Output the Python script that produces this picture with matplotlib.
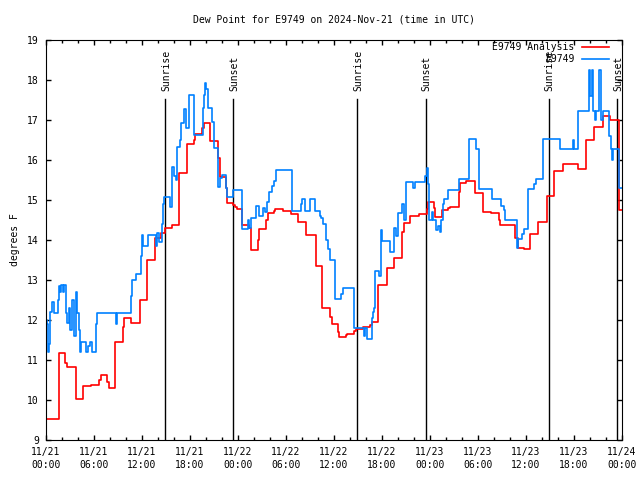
import matplotlib
matplotlib.use("Agg")
import matplotlib.pyplot as plt
from matplotlib.ticker import FixedLocator, FixedFormatter, MultipleLocator

plt.rcParams['font.family'] = ['DejaVu Sans Mono']
plt.rcParams['font.size'] = 7

# hours since 2024-11-21 00:00 UTC, step values (deg F)
ana_t = [0.0, 1.67, 2.42, 2.67, 3.71, 4.67, 5.67, 6.62, 6.83, 7.67, 7.92, 8.67,
         9.58, 9.75, 10.67, 11.71, 12.62, 13.62, 14.4, 14.88, 15.71, 16.62, 17.62,
         18.54, 18.67, 19.5, 19.7, 20.54, 21.5, 21.7, 22.54, 22.67, 23.38, 23.58,
         23.92, 24.54, 25.4, 25.58, 26.5, 26.62, 27.54, 27.75, 28.5, 28.67, 29.6,
         30.67, 31.5, 32.54, 33.7, 34.5, 35.5, 35.7, 36.5, 36.67, 37.5, 37.67,
         38.5, 38.75, 39.67, 40.5, 40.7, 41.55, 42.6, 43.55, 44.5, 44.7, 45.5,
         46.6, 47.62, 47.8, 48.46, 48.67, 49.5, 50.25, 50.5, 51.6, 51.7, 52.5,
         53.67, 54.6, 54.67, 55.6, 56.6, 56.7, 58.67, 59.0, 59.8, 60.5, 61.5,
         62.6, 63.5, 64.6, 66.5, 67.5, 68.5, 69.6, 70.5, 71.67, 72.0]
ana_v = [9.52, 11.17, 10.92, 10.82, 10.02, 10.35, 10.37, 10.5, 10.62, 10.45, 10.29, 11.46,
         11.83, 12.06, 11.92, 12.5, 13.49, 14.06, 14.17, 14.29, 14.38, 15.67, 16.39,
         16.5, 16.64, 16.8, 16.92, 16.47, 16.04, 15.57, 15.3, 14.93, 14.88, 14.82,
         14.77, 14.37, 14.3, 13.75, 14.0, 14.27, 14.5, 14.67, 14.72, 14.78, 14.73,
         14.64, 14.44, 14.13, 13.35, 12.29, 12.08, 11.89, 11.7, 11.58, 11.62, 11.65,
         11.72, 11.77, 11.82, 11.88, 11.96, 12.87, 13.29, 13.54, 14.19, 14.42, 14.61,
         14.65, 14.78, 14.94, 14.79, 14.58, 14.75, 14.8, 14.83, 15.2, 15.43, 15.47,
         15.17, 14.9, 14.69, 14.67, 14.5, 14.38, 14.04, 13.79, 13.77, 14.14, 14.44,
         15.11, 15.73, 15.89, 15.77, 16.5, 16.82, 17.11, 17.0, 14.75, 14.75]

obs_t = [0.0, 0.15, 0.25, 0.4, 0.55, 0.8, 0.95, 1.45, 1.6, 1.75, 1.85, 2.1, 2.2,
         2.5, 2.65, 2.85, 3.05, 3.3, 3.45, 3.7, 3.9, 4.1, 4.2, 4.42, 4.96, 5.2,
         5.46, 5.79, 6.21, 6.42, 8.7, 8.85, 10.67, 10.8, 11.2, 11.83, 11.95, 12.1,
         12.75, 13.71, 13.9, 14.1, 14.45, 14.6, 14.8, 15.55, 15.79, 16.0, 16.2,
         16.42, 16.7, 16.92, 17.2, 17.5, 17.9, 18.5, 19.58, 19.7, 19.9, 20.05,
         20.25, 20.75, 21.0, 21.3, 21.5, 21.75, 21.95, 22.55, 22.67, 23.38, 24.54,
         25.25, 25.4, 25.67, 26.3, 26.6, 26.8, 27.1, 27.4, 27.67, 27.9, 28.2, 28.5,
         28.8, 30.8, 31.83, 32.0, 32.42, 33.04, 33.67, 34.2, 34.42, 34.6, 34.96,
         35.2, 35.5, 36.17, 36.9, 37.1, 38.46, 39.7, 39.9, 40.1, 40.7, 40.85, 41.0,
         41.17, 41.6, 41.9, 42.0, 43.04, 43.5, 43.75, 44.0, 44.5, 44.7, 45.0, 45.83,
         46.1, 47.4, 47.6, 47.75, 47.9, 48.25, 48.4, 48.8, 49.0, 49.2, 49.4, 49.6,
         49.75, 50.25, 51.6, 52.85, 53.75, 54.1, 55.8, 56.9, 57.2, 57.4, 58.85,
         59.05, 59.5, 59.7, 60.2, 60.3, 61.0, 61.3, 62.1, 64.3, 65.85, 65.95, 66.5,
         67.9, 68.05, 68.2, 68.35, 68.6, 68.8, 69.15, 69.35, 69.6, 70.4, 70.6,
         70.75, 70.9, 71.67, 72.0]
obs_v = [12.0, 11.9, 11.2, 11.4, 12.2, 12.45, 12.17, 12.5, 12.85, 12.7, 12.87, 12.7, 12.87,
         12.17, 11.92, 12.3, 11.75, 12.5, 11.6, 12.7, 12.17, 11.75, 11.2, 11.46, 11.2, 11.35,
         11.46, 11.19, 11.9, 12.17, 11.9, 12.17, 12.6, 13.0, 13.15, 13.6, 14.12, 13.85,
         14.12, 13.85, 14.17, 13.95, 14.4, 14.9, 15.08, 14.83, 15.83, 15.6, 15.5,
         16.33, 16.5, 16.92, 17.27, 16.8, 17.62, 16.62, 17.3, 17.62, 17.93, 17.77,
         17.29, 16.96, 16.3, 16.29, 15.33, 15.55, 15.62, 15.3, 15.08, 15.25, 14.27,
         14.5, 14.3, 14.54, 14.85, 14.6, 14.6, 14.8, 14.7, 14.96, 15.2, 15.35, 15.48,
         15.75, 14.73, 14.9, 15.03, 14.73, 15.03, 14.73, 14.6, 14.55, 14.4, 14.0,
         13.77, 13.5, 12.52, 12.65, 12.79, 11.79, 11.6, 11.79, 11.52, 12.04, 12.2, 12.3,
         13.23, 13.1, 14.25, 13.97, 13.69, 14.3, 14.1, 14.67, 14.9, 14.5, 15.46, 15.3,
         15.46, 15.6, 15.8, 15.4, 14.5, 14.7, 14.5, 14.25, 14.35, 14.2, 14.5, 14.9,
         15.03, 15.25, 15.52, 16.52, 16.27, 15.27, 15.02, 14.85, 14.75, 14.5, 13.8,
         14.02, 14.15, 14.27, 14.8, 15.27, 15.4, 15.52, 16.52, 16.27, 16.5, 16.27, 17.23,
         18.25, 17.6, 18.25, 17.23, 17.0, 17.23, 18.25, 17.0, 17.23, 16.6, 16.27,
         16.0, 16.27, 15.29, 15.29]

sunrise = [14.9, 38.92, 62.85]
sunset = [23.42, 47.44, 71.42]

x_ticks = [0, 6, 12, 18, 24, 30, 36, 42, 48, 54, 60, 66, 72]
x_labels = ["11/21\n00:00", "11/21\n06:00", "11/21\n12:00", "11/21\n18:00",
            "11/22\n00:00", "11/22\n06:00", "11/22\n12:00", "11/22\n18:00",
            "11/23\n00:00", "11/23\n06:00", "11/23\n12:00", "11/23\n18:00",
            "11/24\n00:00"]

fig = plt.figure(figsize=(6.4, 4.8), dpi=100)
ax = fig.add_axes([46/640, 40/480, 576/640, 400/480])

# sunrise / sunset markers
for s in sunrise:
    ax.plot([s, s], [9, 17.52], color='black', lw=1)
    ax.text(s + 0.1, 17.72, "Sunrise", rotation=90, ha='center', va='bottom')
for s in sunset:
    ax.plot([s, s], [9, 17.52], color='black', lw=1)
    ax.text(s + 0.1, 17.72, "Sunset", rotation=90, ha='center', va='bottom')

ax.step(ana_t, ana_v, where='post', color='#ff0000', lw=1.2, label='E9749 Analysis')
ax.step(obs_t, obs_v, where='post', color='#0080ff', lw=1.2, label='E9749')

ax.set_xlim(0, 72)
ax.set_ylim(9, 19)
ax.xaxis.set_major_locator(FixedLocator(x_ticks))
ax.xaxis.set_major_formatter(FixedFormatter(x_labels))
ax.xaxis.set_minor_locator(MultipleLocator(2))
ax.yaxis.set_major_locator(MultipleLocator(1))
ax.tick_params(which='both', direction='in', top=True, right=True, width=1)
ax.tick_params(which='major', length=3.5)
ax.tick_params(which='minor', length=2)
ax.tick_params(axis='x', pad=5)
ax.tick_params(axis='y', pad=5)
for lab in ax.get_xticklabels():
    lab.set_linespacing(1.4)

ax.set_ylabel("degrees F")
ax.yaxis.set_label_coords(-0.045, 0.5)

ax.legend(loc='upper right', bbox_to_anchor=(0.978, 0.995), frameon=False,
          markerfirst=False, handlelength=2.8, handletextpad=0.8,
          labelspacing=0.25, borderpad=0, borderaxespad=0)

fig.text(334/640, 1 - 19/480, "Dew Point for E9749 on 2024-Nov-21 (time in UTC)",
         ha='center', va='center')

fig.savefig("out.png", dpi=100)
